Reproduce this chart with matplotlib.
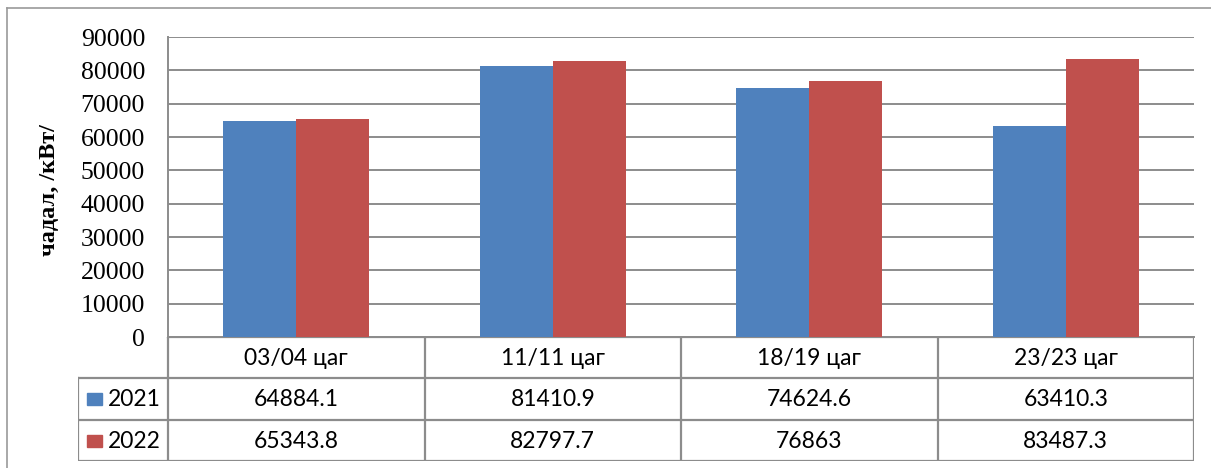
import numpy as np
import matplotlib
matplotlib.use("Agg")
import matplotlib.pyplot as plt
from matplotlib.patches import Rectangle
from matplotlib.lines import Line2D

categories = ["03/04 цаг", "11/11 цаг", "18/19 цаг", "23/23 цаг"]
series_names = ["2021", "2022"]
values_2021 = [64884.1, 81410.9, 74624.6, 63410.3]
values_2022 = [65343.8, 82797.7, 76863, 83487.3]
labels_2021 = ["64884.1", "81410.9", "74624.6", "63410.3"]
labels_2022 = ["65343.8", "82797.7", "76863", "83487.3"]
yticks = [0, 10000, 20000, 30000, 40000, 50000, 60000, 70000, 80000, 90000]

BLUE = "#4F81BD"
RED = "#C0504D"
GRID = "#8C8C8C"

W, H = 1211, 468
fig = plt.figure(figsize=(W / 100, H / 100), dpi=100)

ax_l, ax_r, ax_t, ax_b = 168, 1194, 37, 337
ax = fig.add_axes([ax_l / W, 1 - ax_b / H, (ax_r - ax_l) / W, (ax_b - ax_t) / H])
x = np.arange(len(categories))
bw = 0.285
ax.bar(x - bw / 2, values_2021, bw, color=BLUE, zorder=3)
ax.bar(x + bw / 2, values_2022, bw, color=RED, zorder=3)
ax.set_xlim(-0.5, len(categories) - 0.5)
ax.set_ylim(0, 90000)
ax.set_yticks(yticks)
ax.set_yticklabels([str(v) for v in yticks], fontfamily="Liberation Serif", fontsize=18.5)
ax.set_xticks([])
ax.tick_params(axis="y", length=0, pad=16.5)
ax.grid(axis="y", color=GRID, lw=1.4, zorder=0)
for s in ["top", "right"]:
    ax.spines[s].set_visible(False)
for s in ["left", "bottom"]:
    ax.spines[s].set_color(GRID)
    ax.spines[s].set_linewidth(1.4)
ax.set_ylabel("чадал, /кВт/", fontfamily="Liberation Serif", fontweight="bold", fontsize=17.5)
ax.yaxis.set_label_coords((60 - ax_l) / (ax_r - ax_l), 0.49)

# data table below the axes
tl, tt, tb = 78, 337, 461
tax = fig.add_axes([tl / W, 1 - tb / H, (ax_r - tl) / W, (tb - tt) / H])
tax.set_xlim(tl, ax_r)
tax.set_ylim(tb, tt)
tax.axis("off")
rows = [337, 378, 420, 461]
ncat = len(categories)
edges = [ax_l + i * (ax_r - ax_l) / ncat for i in range(ncat + 1)]
lk = dict(color=GRID, lw=1.6, solid_capstyle="projecting")
tax.plot([ax_l, ax_r], [rows[0], rows[0]], **lk)
for r in rows[1:]:
    tax.plot([tl, ax_r], [r, r], **lk)
for e in edges:
    tax.plot([e, e], [rows[0], rows[-1]], **lk)
tax.plot([tl, tl], [rows[1], rows[-1]], **lk)

tfont = dict(fontfamily="Lato", fontsize=16.5, ha="center", va="center")
for i, c in enumerate(categories):
    cx = (edges[i] + edges[i + 1]) / 2
    tax.text(cx, (rows[0] + rows[1]) / 2 + 1, c, **tfont)
    tax.text(cx, (rows[1] + rows[2]) / 2 + 1, labels_2021[i], **tfont)
    tax.text(cx, (rows[2] + rows[3]) / 2 + 1, labels_2022[i], **tfont)
for j, (name, col) in enumerate(zip(series_names, [BLUE, RED])):
    cy = (rows[j + 1] + rows[j + 2]) / 2
    tax.add_patch(Rectangle((87, cy - 6), 15, 12, color=col))
    tax.text(108, cy + 1, name, fontfamily="Lato", fontsize=16.5, ha="left", va="center")

fig.add_artist(Line2D([7 / W, 7 / W], [0, 1 - 8 / H], color="#9A9A9A", lw=1.2))
fig.add_artist(Line2D([7 / W, 1], [1 - 8 / H, 1 - 8 / H], color="#9A9A9A", lw=1.2))

fig.savefig("out.png", dpi=100)
